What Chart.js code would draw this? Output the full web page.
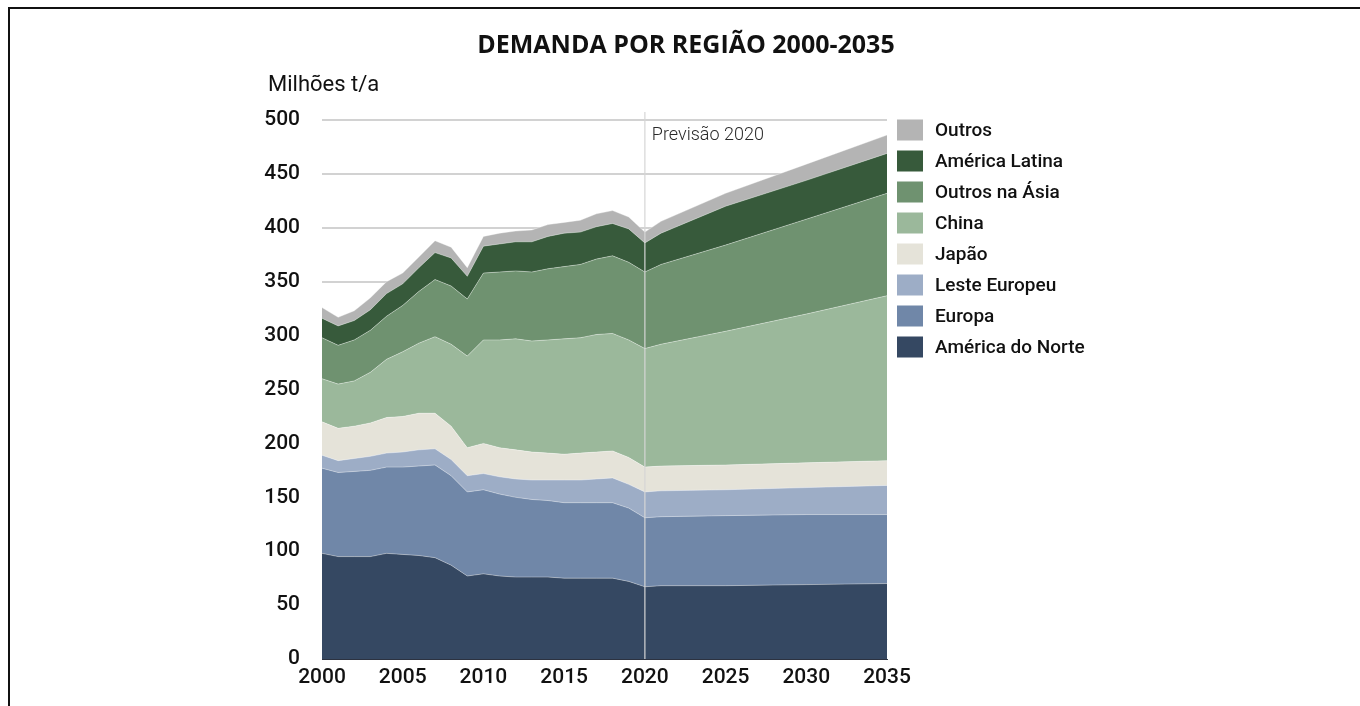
<!DOCTYPE html>
<html lang="pt">
<head>
<meta charset="utf-8">
<title>Demanda por região 2000-2035</title>
<script src="https://cdn.jsdelivr.net/npm/chart.js@4.4.1/dist/chart.umd.min.js"></script>
<style>
  html, body { margin: 0; padding: 0; background: #fff; }
  body { width: 1360px; height: 706px; position: relative; overflow: hidden; }
  .frame { position: absolute; left: 8px; top: 7px; right: 0; bottom: 0; border-top: 2px solid #111; border-left: 2px solid #111; }
  #chart { position: absolute; left: 0; top: 0; }
</style>
</head>
<body>
<div class="frame"></div>
<canvas id="chart" width="1360" height="706"></canvas>
<script>
// dados (milhões t/a)
const years = [2000, 2001, 2002, 2003, 2004, 2005, 2006, 2007, 2008, 2009, 2010,
               2011, 2012, 2013, 2014, 2015, 2016, 2017, 2018, 2019, 2020,
               2021, 2025, 2030, 2035];

const americaNorte = [98, 95, 95, 95, 98, 97, 96, 94, 87, 77, 79, 77, 76, 76, 76, 75, 75, 75, 75, 72, 67, 68, 68, 69, 70];
const europa       = [79, 78, 79, 80, 80, 81, 83, 86, 83, 78, 78, 76, 74, 72, 71, 70, 70, 70, 70, 68, 64, 64, 65, 65, 64];
const lesteEuropeu = [12, 11, 12, 13, 13, 14, 15, 15, 15, 15, 15, 16, 17, 18, 19, 21, 21, 22, 23, 22, 24, 24, 24, 25, 27];
const japao        = [31, 30, 30, 31, 33, 33, 34, 33, 31, 26, 28, 27, 27, 26, 25, 24, 25, 25, 25, 25, 23, 23, 23, 23, 23];
const china        = [40, 41, 42, 47, 54, 60, 65, 71, 76, 85, 96, 100, 103, 103, 105, 107, 107, 109, 109, 109, 110, 113, 124, 138, 153];
const outrosAsia   = [38, 36, 38, 39, 40, 43, 48, 53, 54, 53, 62, 63, 63, 64, 66, 67, 68, 70, 72, 72, 71, 74, 80, 88, 95];
const americaLatina= [18, 18, 18, 19, 21, 20, 22, 25, 26, 21, 25, 26, 27, 28, 30, 31, 30, 30, 30, 31, 27, 29, 36, 36, 37];
const outros       = [10, 8, 9, 11, 11, 10, 10, 11, 10, 8, 9, 10, 10, 11, 11, 10, 11, 12, 12, 11, 10, 11, 12, 15, 17];

const yTicks = { min: 0, max: 500, step: 50 };
const xTicks = { min: 2000, max: 2035, step: 5 };
const forecastYear = 2020;
const forecastLabel = 'Previsão 2020';
const chartTitle = 'DEMANDA POR REGIÃO 2000-2035';
const unitLabel = 'Milhões t/a';

// de baixo para cima
const series = [
    { name: 'América do Norte', values: americaNorte,  color: '#354862' },
    { name: 'Europa',           values: europa,        color: '#7087a8' },
    { name: 'Leste Europeu',    values: lesteEuropeu,  color: '#9dadc6' },
    { name: 'Japão',            values: japao,         color: '#e5e3d9' },
    { name: 'China',            values: china,         color: '#9bb89b' },
    { name: 'Outros na Ásia',   values: outrosAsia,    color: '#6f9270' },
    { name: 'América Latina',   values: americaLatina, color: '#375a3b' },
    { name: 'Outros',           values: outros,        color: '#b4b4b4' }
];

// Linha da previsão, título e legenda desenhados no canvas
const extrasPlugin = {
    id: 'extras',
    afterDatasetsDraw(chart) {
        const { ctx, chartArea, scales } = chart;
        const x = scales.x.getPixelForValue(forecastYear);
        ctx.save();
        ctx.strokeStyle = 'rgba(214,214,214,0.8)';
        ctx.lineWidth = 1.5;
        ctx.beginPath();
        ctx.moveTo(x, chartArea.top - 8);
        ctx.lineTo(x, chartArea.bottom);
        ctx.stroke();
        ctx.fillStyle = '#2a2a2a';
        ctx.font = '300 18px Roboto';
        ctx.textBaseline = 'middle';
        ctx.textAlign = 'left';
        ctx.fillText(forecastLabel, x + 7, chartArea.top + 15);
        ctx.restore();
    },
    afterDraw(chart) {
        const { ctx, chartArea } = chart;
        ctx.save();
        // título
        ctx.fillStyle = '#111';
        ctx.font = '700 25px "Open Sans"';
        ctx.textAlign = 'center';
        ctx.textBaseline = 'middle';
        ctx.fillText(chartTitle, 686, 46);
        // unidade
        ctx.font = '400 22px Roboto';
        ctx.textAlign = 'left';
        ctx.fillText(unitLabel, 268, 85);
        // legenda (ordem inversa)
        const ds = chart.data.datasets.slice().reverse();
        const lx = chartArea.right + 10;
        ds.forEach((d, i) => {
            const cy = 130 + i * 31;
            ctx.fillStyle = d.backgroundColor;
            ctx.fillRect(lx, cy - 10.5, 26, 21);
            ctx.fillStyle = '#111';
            ctx.font = '500 19px Roboto';
            ctx.fillText(d.label, lx + 38, cy + 1);
        });
        ctx.restore();
    }
};

function drawChart() {
    const ctx = document.getElementById('chart').getContext('2d');
    new Chart(ctx, {
        type: 'line',
        data: {
            datasets: series.map((s, i) => ({
                label: s.name,
                data: years.map((yr, j) => ({ x: yr, y: s.values[j] })),
                backgroundColor: s.color,
                borderColor: 'rgba(255,255,255,0.35)',
                borderWidth: 1,
                pointRadius: 0,
                tension: 0,
                fill: i === 0 ? 'origin' : '-1'
            }))
        },
        options: {
            responsive: false,
            animation: false,
            layout: { padding: { left: 0, top: 120, right: 473, bottom: 0 } },
            plugins: {
                legend: { display: false },
                tooltip: { enabled: false }
            },
            scales: {
                x: {
                    type: 'linear',
                    min: xTicks.min,
                    max: xTicks.max,
                    grid: { display: false, drawTicks: false },
                    border: { display: true, color: 'rgba(25,32,48,0.9)', width: 1 },
                    ticks: {
                        stepSize: xTicks.step,
                        padding: 6,
                        color: '#111',
                        font: { family: 'Roboto', size: 21, weight: '500' },
                        maxRotation: 0,
                        callback: v => String(v)
                    },
                    afterFit: scale => { scale.height = 706 - 659; }
                },
                y: {
                    stacked: true,
                    min: yTicks.min,
                    max: yTicks.max,
                    grid: { color: '#d2d2d2', lineWidth: 2, drawTicks: false },
                    border: { display: false },
                    ticks: {
                        stepSize: yTicks.step,
                        padding: 22,
                        color: '#111',
                        font: { family: 'Roboto', size: 21, weight: '500' }
                    },
                    afterFit: scale => { scale.width = 322; }
                }
            }
        },
        plugins: [extrasPlugin]
    });
}

Promise.all([
    document.fonts.load('500 21px Roboto'),
    document.fonts.load('500 19px Roboto'),
    document.fonts.load('300 18px Roboto'),
    document.fonts.load('700 25px "Open Sans"')
]).then(drawChart, drawChart);
</script>
</body>
</html>
